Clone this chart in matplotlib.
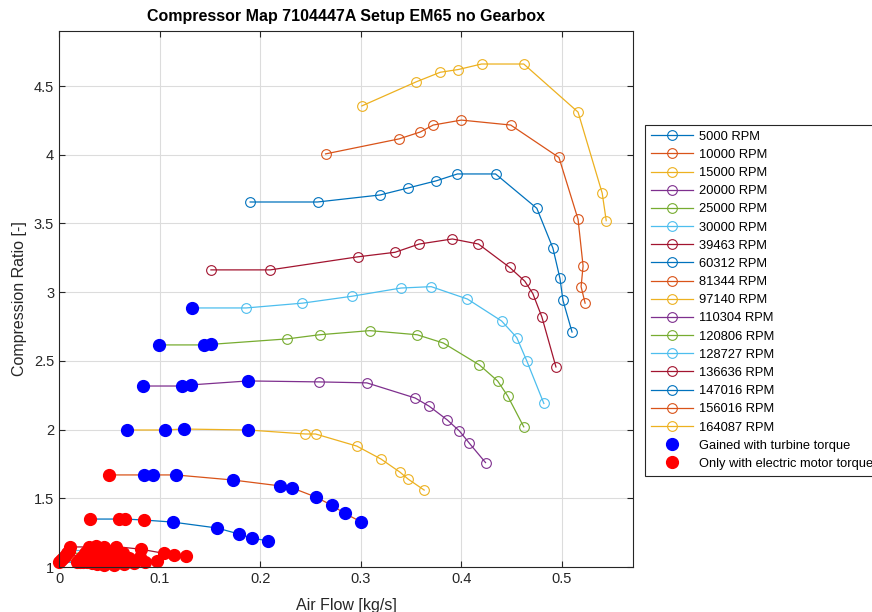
import numpy as np
import matplotlib
matplotlib.use("Agg")
import matplotlib.pyplot as plt
from matplotlib.ticker import FuncFormatter

plt.rcParams['font.family'] = ['Liberation Sans', 'DejaVu Sans']

# speed lines of the compressor map (air flow [kg/s], compression ratio [-])
rpm = [5000, 10000, 15000, 20000, 25000, 30000, 39463, 60312, 81344, 97140,
       110304, 120806, 128727, 136636, 147016, 156016, 164087]

flow_5000 = [0.000, 0.018, 0.021, 0.024, 0.028, 0.033, 0.038, 0.045]
pr_5000 = [1.036, 1.036, 1.036, 1.035, 1.033, 1.028, 1.022, 1.015]
flow_10000 = [0.002, 0.020, 0.024, 0.027, 0.032, 0.038, 0.046, 0.055]
pr_10000 = [1.050, 1.050, 1.051, 1.050, 1.047, 1.040, 1.030, 1.018]
flow_15000 = [0.004, 0.022, 0.026, 0.030, 0.036, 0.044, 0.054, 0.065]
pr_15000 = [1.066, 1.066, 1.067, 1.066, 1.062, 1.054, 1.040, 1.022]
flow_20000 = [0.006, 0.024, 0.028, 0.033, 0.040, 0.050, 0.062, 0.075]
pr_20000 = [1.082, 1.082, 1.083, 1.082, 1.078, 1.068, 1.050, 1.028]
flow_25000 = [0.008, 0.026, 0.031, 0.036, 0.045, 0.057, 0.070, 0.085]
pr_25000 = [1.100, 1.100, 1.102, 1.100, 1.095, 1.083, 1.062, 1.035]
flow_30000 = [0.0095, 0.028, 0.034, 0.040, 0.050, 0.064, 0.080, 0.097]
pr_30000 = [1.120, 1.120, 1.122, 1.120, 1.114, 1.100, 1.075, 1.045]
flow_39463 = [0.011, 0.030, 0.037, 0.045, 0.057, 0.081, 0.104, 0.114, 0.126]
pr_39463 = [1.146, 1.146, 1.150, 1.148, 1.148, 1.130, 1.100, 1.087, 1.080]
flow_60312 = [0.031, 0.060, 0.066, 0.084, 0.113, 0.157, 0.179, 0.192, 0.208]
pr_60312 = [1.349, 1.349, 1.349, 1.342, 1.327, 1.284, 1.240, 1.210, 1.190]
flow_81344 = [0.050, 0.084, 0.093, 0.116, 0.173, 0.220, 0.232, 0.255, 0.271, 0.284, 0.300]
pr_81344 = [1.670, 1.670, 1.670, 1.670, 1.633, 1.590, 1.575, 1.510, 1.450, 1.390, 1.330]
flow_97140 = [0.068, 0.105, 0.124, 0.188, 0.245, 0.255, 0.296, 0.320, 0.339, 0.347, 0.363]
pr_97140 = [1.997, 1.997, 2.004, 1.997, 1.968, 1.968, 1.880, 1.786, 1.690, 1.640, 1.560]
flow_110304 = [0.083, 0.122, 0.131, 0.188, 0.258, 0.306, 0.354, 0.368, 0.386, 0.398, 0.408, 0.424]
pr_110304 = [2.317, 2.317, 2.325, 2.354, 2.347, 2.340, 2.230, 2.170, 2.070, 1.990, 1.900, 1.760]
flow_120806 = [0.099, 0.144, 0.151, 0.227, 0.259, 0.309, 0.356, 0.382, 0.418, 0.436, 0.446, 0.462]
pr_120806 = [2.616, 2.616, 2.620, 2.660, 2.690, 2.720, 2.690, 2.630, 2.470, 2.354, 2.245, 2.020]
flow_128727 = [0.132, 0.186, 0.242, 0.291, 0.340, 0.370, 0.406, 0.440, 0.455, 0.465, 0.482]
pr_128727 = [2.885, 2.885, 2.920, 2.970, 3.030, 3.040, 2.950, 2.790, 2.670, 2.500, 2.190]
flow_136636 = [0.151, 0.210, 0.297, 0.334, 0.358, 0.391, 0.417, 0.448, 0.463, 0.471, 0.480, 0.494]
pr_136636 = [3.162, 3.162, 3.257, 3.290, 3.350, 3.387, 3.350, 3.180, 3.080, 2.990, 2.820, 2.456]
flow_147016 = [0.190, 0.257, 0.319, 0.347, 0.375, 0.396, 0.434, 0.475, 0.491, 0.498, 0.501, 0.510]
pr_147016 = [3.656, 3.656, 3.707, 3.758, 3.810, 3.860, 3.860, 3.610, 3.320, 3.100, 2.940, 2.710]
flow_156016 = [0.265, 0.338, 0.359, 0.372, 0.400, 0.449, 0.497, 0.516, 0.521, 0.519, 0.523]
pr_156016 = [4.006, 4.115, 4.165, 4.216, 4.252, 4.216, 3.980, 3.530, 3.190, 3.040, 2.920]
flow_164087 = [0.301, 0.355, 0.379, 0.397, 0.420, 0.462, 0.516, 0.540, 0.544]
pr_164087 = [4.355, 4.530, 4.600, 4.620, 4.660, 4.660, 4.310, 3.720, 3.520]

flows = [flow_5000, flow_10000, flow_15000, flow_20000, flow_25000, flow_30000,
         flow_39463, flow_60312, flow_81344, flow_97140, flow_110304, flow_120806,
         flow_128727, flow_136636, flow_147016, flow_156016, flow_164087]
ratios = [pr_5000, pr_10000, pr_15000, pr_20000, pr_25000, pr_30000,
          pr_39463, pr_60312, pr_81344, pr_97140, pr_110304, pr_120806,
          pr_128727, pr_136636, pr_147016, pr_156016, pr_164087]

# operating points per speed line: number reached only with the e-motor,
# then number reached with turbine torque (counted from the low-flow end)
n_emotor = [8, 8, 8, 8, 8, 8, 9, 4, 1, 0, 0, 0, 0, 0, 0, 0, 0]
n_turbine = [0, 0, 0, 0, 0, 0, 0, 5, 10, 4, 4, 3, 1, 0, 0, 0, 0]

matlab_colors = ['#0072BD', '#D95319', '#EDB120', '#7E2F8E',
                 '#77AC30', '#4DBEEE', '#A2142F']

fig = plt.figure(figsize=(8.72, 6.12), dpi=100)
ax = fig.add_axes([0.0677, 0.0735, 0.6582, 0.8758])

for i, (x, y) in enumerate(zip(flows, ratios)):
    ax.plot(x, y, '-o', color=matlab_colors[i % 7], lw=0.9, ms=7,
            mfc='none', mew=0.8, label=f'{rpm[i]} RPM', clip_on=False)

gx, gy, ex, ey = [], [], [], []
for x, y, ne, nt in zip(flows, ratios, n_emotor, n_turbine):
    ex += x[:ne]
    ey += y[:ne]
    gx += x[ne:ne + nt]
    gy += y[ne:ne + nt]

ax.plot(gx, gy, 'o', color='blue', ms=8.5, ls='none',
        label='Gained with turbine torque', clip_on=False)
ax.plot(ex, ey, 'o', color='red', ms=8.5, ls='none',
        label='Only with electric motor torque', clip_on=False)

ax.set_xlim(0, 0.5706)
ax.set_ylim(1, 4.9)
ax.set_xticks(np.arange(0, 0.51, 0.1))
ax.set_yticks(np.arange(1, 4.51, 0.5))
ax.xaxis.set_major_formatter(FuncFormatter(lambda v, p: f'{v:g}'))
ax.yaxis.set_major_formatter(FuncFormatter(lambda v, p: f'{v:g}'))
ax.tick_params(direction='in', top=True, right=True, labelsize=10.5,
               length=4, width=0.8, colors='#262626')
ax.grid(True, color='#dcdcdc', lw=0.8)
ax.set_axisbelow(True)
for s in ax.spines.values():
    s.set_linewidth(0.8)
    s.set_color('#262626')

ax.set_xlabel('Air Flow [kg/s]', fontsize=11.5, color='#262626', labelpad=9)
ax.set_ylabel('Compression Ratio [-]', fontsize=11.5, color='#262626', labelpad=5)
ax.set_title('Compressor Map 7104447A Setup EM65 no Gearbox',
             fontsize=11.5, fontweight='bold', pad=7)

leg = ax.legend(loc='upper left', bbox_to_anchor=(0.7397, 0.796),
                bbox_transform=fig.transFigure, borderaxespad=0,
                fontsize=9.3, handlelength=3.3, handletextpad=0.4,
                labelspacing=0.475, fancybox=False, framealpha=1,
                edgecolor='#262626', borderpad=0.45)
leg.get_frame().set_linewidth(0.8)

fig.savefig('out.png', dpi=100)
